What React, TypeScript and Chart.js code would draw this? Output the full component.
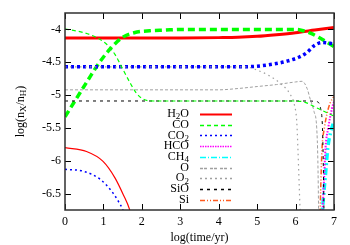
import React, { useEffect, useRef } from "react";
import { Chart, registerables } from "chart.js";

Chart.register(...registerables);

const FONT = "'Liberation Serif', 'DejaVu Serif', serif";

const xTickValues = [0, 1, 2, 3, 4, 5, 6, 7];
const yTickValues = [-4, -4.5, -5, -5.5, -6, -6.5];
const yMin = -6.75;
const yMax = -3.75;

const legendLabels = ["H2O", "CO", "CO2", "HCO", "CH4", "O", "O2", "SiO", "Si"];

// thick (labelled) series
const h2oX = [0, 1, 2, 3, 4, 4.5, 5, 5.5, 6, 6.5, 7];
const h2oY = [-4.13, -4.13, -4.13, -4.13, -4.125, -4.12, -4.105, -4.08, -4.05, -4.01, -3.97];

const coX = [0, 0.3, 0.6, 0.9, 1.2, 1.5, 1.8, 2.2, 2.6, 3, 4, 5, 6, 6.2, 6.4, 6.6, 6.8, 7];
const coY = [-5.33, -5.05, -4.77, -4.5, -4.28, -4.12, -4.05, -4.02, -4.01, -4.0, -4.0, -4.0, -4.0, -4.02, -4.06, -4.12, -4.19, -4.26];

const co2X = [0, 1, 2, 3, 4, 4.5, 5, 5.5, 5.8, 6.1, 6.3, 6.5, 6.7, 7];
const co2Y = [-4.57, -4.57, -4.57, -4.57, -4.57, -4.57, -4.56, -4.52, -4.48, -4.42, -4.35, -4.24, -4.2, -4.22];

const hcoX = [6.7, 6.74, 6.78, 6.85, 6.95, 7];
const hcoY = [-6.8, -6.3, -5.8, -5.5, -5.2, -5.1];

const ch4X = [6.68, 6.72, 6.78, 6.84, 6.92, 7];
const ch4Y = [-6.9, -6.6, -6.2, -5.8, -5.55, -5.4];

const oX = [0, 4, 4.5, 5, 5.5, 6, 6.17, 6.3, 6.38, 6.48, 6.55, 6.58, 6.6];
const oY = [-4.92, -4.92, -4.9, -4.87, -4.84, -4.8, -4.79, -4.9, -5.06, -5.25, -5.5, -6.0, -6.8];

const o2X = [0, 4.7, 5.0, 5.3, 5.6, 5.85, 5.97, 6.03, 6.06, 6.09, 6.12];
const o2Y = [-4.57, -4.57, -4.62, -4.7, -4.82, -4.98, -5.15, -5.4, -5.8, -6.3, -6.8];

const sioX = [0, 3, 6.3, 6.55, 6.65, 6.7, 6.72, 6.74];
const sioY = [-5.09, -5.09, -5.09, -5.1, -5.2, -5.5, -6.0, -6.8];

const siX = [6.63, 6.66, 6.69, 6.75, 6.82, 6.9, 7];
const siY = [-7.0, -6.3, -5.8, -5.5, -5.28, -5.12, -5.02];

// thin (unlabelled) series
const coGasX = [0, 0.65, 1.09, 1.3, 1.5, 1.7, 1.87, 2.03, 2.3, 3, 4, 5, 6, 6.25, 6.5, 6.75, 7];
const coGasY = [-3.99, -4.08, -4.23, -4.38, -4.6, -4.82, -4.98, -5.06, -5.09, -5.09, -5.09, -5.09, -5.09, -5.11, -5.18, -5.25, -5.32];

const h2oGasX = [0, 0.56, 0.99, 1.3, 1.52, 1.68, 1.75];
const h2oGasY = [-5.8, -5.86, -6.01, -6.26, -6.52, -6.74, -6.9];

const co2GasX = [0, 0.48, 0.91, 1.21, 1.39, 1.5, 1.56];
const co2GasY = [-6.13, -6.16, -6.28, -6.46, -6.62, -6.74, -6.85];

const pts = (xs: number[], ys: number[]) => xs.map((x, i) => ({ x, y: ys[i] }));

const drawSubText = (ctx: CanvasRenderingContext2D, parts: { t: string; sub: boolean }[], x: number, y: number, align: "left" | "right" | "center", size: number) => {
  const subSize = Math.round(size * 0.72);
  let total = 0;
  for (const p of parts) {
    ctx.font = `${p.sub ? subSize : size}px ${FONT}`;
    total += ctx.measureText(p.t).width;
  }
  let cx = align === "left" ? x : align === "right" ? x - total : x - total / 2;
  ctx.textAlign = "left";
  ctx.textBaseline = "middle";
  for (const p of parts) {
    ctx.font = `${p.sub ? subSize : size}px ${FONT}`;
    ctx.fillText(p.t, cx, p.sub ? y + 3 : y);
    cx += ctx.measureText(p.t).width;
  }
};

const splitDigits = (s: string) => {
  const out: { t: string; sub: boolean }[] = [];
  for (const ch of s) {
    const sub = /[0-9]/.test(ch);
    const last = out[out.length - 1];
    if (last && last.sub === sub) last.t += ch;
    else out.push({ t: ch, sub });
  }
  return out;
};

const framePlugin = {
  id: "frameAndLegend",
  afterDatasetsDraw(chart: any) {
    const ctx: CanvasRenderingContext2D = chart.ctx;
    const { left, right, top, bottom } = chart.chartArea;
    const xs = chart.scales.x;
    const ys = chart.scales.y;
    ctx.save();
    // inward ticks
    ctx.strokeStyle = "#000";
    ctx.lineWidth = 1;
    ctx.beginPath();
    for (const v of xTickValues) {
      const px = Math.round(xs.getPixelForValue(v)) + 0.5;
      ctx.moveTo(px, bottom);
      ctx.lineTo(px, bottom - 6);
      ctx.moveTo(px, top);
      ctx.lineTo(px, top + 6);
    }
    for (const v of yTickValues) {
      const py = Math.round(ys.getPixelForValue(v)) + 0.5;
      ctx.moveTo(left, py);
      ctx.lineTo(left + 6, py);
      ctx.moveTo(right, py);
      ctx.lineTo(right - 6, py);
    }
    ctx.stroke();
    // frame
    ctx.strokeStyle = "#303030";
    ctx.lineWidth = 1.5;
    ctx.strokeRect(left, top, right - left, bottom - top);

    // legend, in legendLabels order
    const labelled = legendLabels
      .map((l) => chart.data.datasets.find((d: any) => d.label === l))
      .filter(Boolean);
    ctx.fillStyle = "#000";
    labelled.forEach((d: any, i: number) => {
      const y = 114 + i * 10.7;
      drawSubText(ctx, splitDigits(d.label), 189, y, "right", 12);
      ctx.save();
      ctx.strokeStyle = d.borderColor;
      ctx.lineWidth = d.legendWidth || 1.5;
      ctx.setLineDash(d.legendDash || d.borderDash || []);
      ctx.beginPath();
      ctx.moveTo(200, Math.round(y) + 0.5);
      ctx.lineTo(232, Math.round(y) + 0.5);
      ctx.stroke();
      ctx.restore();
    });

    // axis titles
    ctx.fillStyle = "#000";
    drawSubText(ctx, [{ t: "log(time/yr)", sub: false }], (left + right) / 2, 238, "center", 12);
    ctx.save();
    ctx.translate(21, (top + bottom) / 2);
    ctx.rotate(-Math.PI / 2);
    drawSubText(
      ctx,
      [
        { t: "log(n", sub: false },
        { t: "X", sub: true },
        { t: "/n", sub: false },
        { t: "H", sub: true },
        { t: ")", sub: false },
      ],
      0,
      0,
      "center",
      12
    );
    ctx.restore();
    ctx.restore();
  },
};

export default function App() {
  const ref = useRef<HTMLCanvasElement>(null);
  useEffect(() => {
    if (!ref.current) return;
    const line = (label: string, xs: number[], ys: number[], color: string, width: number, dash: number[], extra: any = {}) => ({
      label,
      data: pts(xs, ys),
      borderColor: color,
      backgroundColor: color,
      borderWidth: width,
      borderDash: dash,
      pointRadius: 0,
      fill: false,
      cubicInterpolationMode: "monotone",
      ...extra,
    });
    const chart = new Chart(ref.current, {
      type: "line",
      data: {
        datasets: [
          line("", h2oGasX, h2oGasY, "#ff0000", 1.2, []),
          line("", co2GasX, co2GasY, "#0000ff", 1.5, [2, 3]),
          line("", coGasX, coGasY, "#00ff00", 1.2, [4, 3]),
          line(legendLabels[5], oX, oY, "#a0a0a0", 1, [3, 2], { legendDash: [3, 1, 3, 3] }),
          line(legendLabels[6], o2X, o2Y, "#a0a0a0", 1.2, [1.5, 3.5], { legendDash: [2, 3] }),
          line(legendLabels[7], sioX, sioY, "#000000", 1, [3, 4], { legendDash: [3, 4] }),
          line(legendLabels[8], siX, siY, "#ff5a1e", 1.5, [5, 2, 1, 2, 1, 2], { legendDash: [5, 2, 1, 2, 1, 2] }),
          line(legendLabels[3], hcoX, hcoY, "#ff00ff", 2, [1.5, 1.5], { legendDash: [1.5, 1] }),
          line(legendLabels[4], ch4X, ch4Y, "#00ffff", 3.5, [7, 3, 2, 3], { legendDash: [6, 2, 1, 2] }),
          line(legendLabels[2], co2X, co2Y, "#0000ff", 3.5, [3, 3], { legendDash: [2, 3] }),
          line(legendLabels[1], coX, coY, "#00ff00", 3.5, [7, 4], { legendDash: [4, 3] }),
          line(legendLabels[0], h2oX, h2oY, "#ff0000", 3, [], { legendWidth: 2 }),
        ],
      },
      options: {
        animation: false,
        responsive: false,
        maintainAspectRatio: false,
        layout: { padding: { top: 13, right: 16, left: 0, bottom: 0 } },
        plugins: { legend: { display: false }, tooltip: { enabled: false } },
        scales: {
          x: {
            type: "linear",
            min: 0,
            max: 7,
            grid: { display: false, drawTicks: false },
            border: { display: false },
            afterBuildTicks: (s: any) => {
              s.ticks = xTickValues.map((v) => ({ value: v }));
            },
            afterFit: (s: any) => {
              s.height = 35;
            },
            ticks: {
              padding: 5,
              color: "#000",
              font: { family: FONT, size: 12 },
              maxRotation: 0,
              callback: (v: any) => String(v),
            },
          },
          y: {
            type: "linear",
            min: yMin,
            max: yMax,
            grid: { display: false, drawTicks: false },
            border: { display: false },
            afterBuildTicks: (s: any) => {
              s.ticks = yTickValues.map((v) => ({ value: v }));
            },
            afterFit: (s: any) => {
              s.width = 65;
            },
            ticks: {
              padding: 4,
              color: "#000",
              font: { family: FONT, size: 12 },
              callback: (v: any) => String(v),
            },
          },
        },
      } as any,
      plugins: [framePlugin],
    } as any);
    return () => chart.destroy();
  }, []);
  return (
    <div style={{ position: "fixed", left: 0, top: 0, width: 350, height: 245, background: "#fff" }}>
      <canvas ref={ref} width={350} height={245} style={{ width: 350, height: 245 }} />
    </div>
  );
}
